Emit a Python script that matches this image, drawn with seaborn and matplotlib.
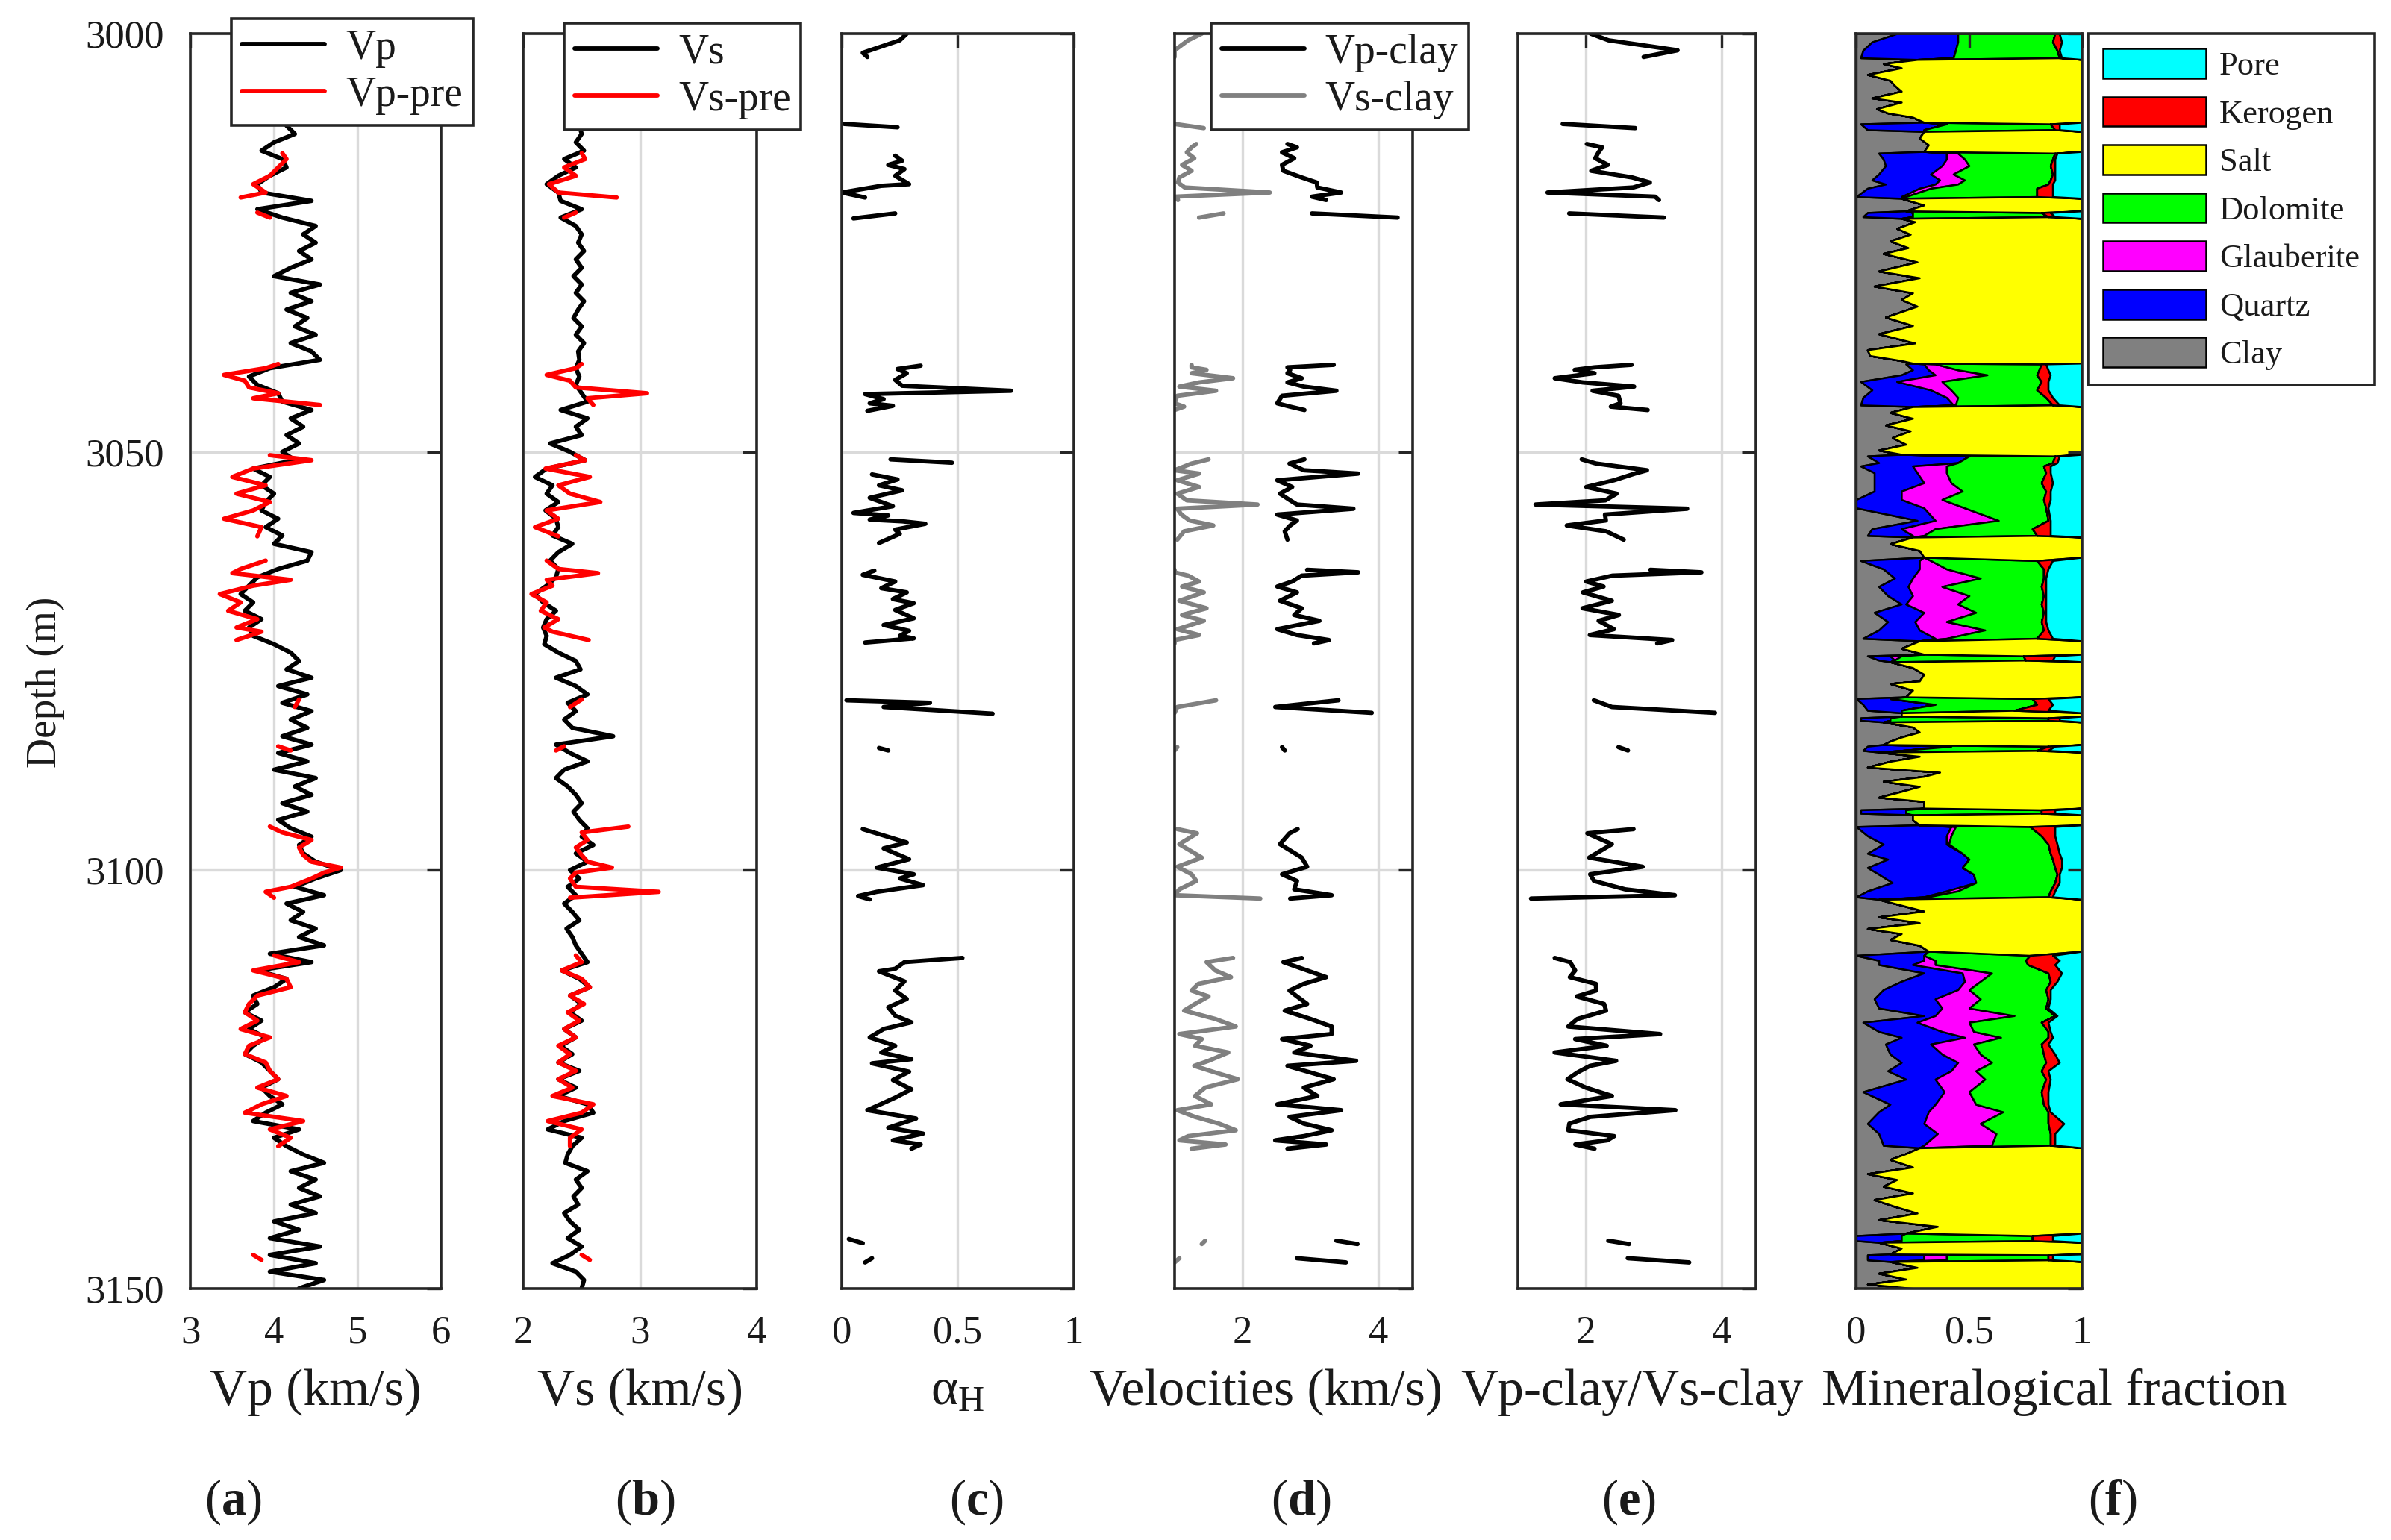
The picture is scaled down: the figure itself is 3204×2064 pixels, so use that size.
import numpy as np
import pandas as pd
import matplotlib
matplotlib.use("Agg")
import matplotlib.pyplot as plt
from matplotlib.lines import Line2D
from matplotlib.patches import Patch
import seaborn as sns

nan = np.nan

# ------------------------------------------------------------
# (a), (b)  measured Vp / Vs, one value per metre 3000..3150
# ------------------------------------------------------------
depth_m = np.arange(3000, 3151)

vp = [4.25, 4.30, 4.20, 4.35, 4.40, 4.30, 4.40, 4.30, 4.35, 4.25,
      4.30, 4.15, 4.25, 4.00, 3.85, 4.10, 4.15, 3.95, 3.80, 3.85,
      4.45, 3.80, 4.10, 4.50, 4.35, 4.50, 4.30, 4.45, 4.20, 4.00,
      4.55, 4.20, 4.45, 4.15, 4.40, 4.25, 4.50, 4.20, 4.45, 4.55,
      3.95, 3.70, 3.80, 4.05, 4.10, 4.45, 4.20, 4.35, 4.15, 4.30,
      4.10, 4.25, 3.75, 3.95, 3.85, 4.00, 3.90, 3.85, 4.05, 3.90,
      4.10, 4.00, 4.45, 4.40, 4.05, 3.80, 3.70, 3.60, 3.75, 3.65,
      3.85, 3.70, 3.75, 4.00, 4.20, 4.30, 4.15, 4.45, 4.05, 4.40,
      4.10, 4.45, 4.20, 4.40, 4.10, 4.45, 4.05, 4.40, 4.00, 4.50,
      4.25, 4.45, 4.10, 4.40, 4.05, 4.20, 4.45, 4.30, 4.35, 4.50,
      4.80, 4.50, 4.25, 4.60, 4.15, 4.35, 4.20, 4.50, 4.30, 4.60,
      3.95, 4.45, 3.80, 4.15, 4.00, 3.75, 3.80, 3.65, 3.85, 3.70,
      3.90, 3.75, 3.65, 3.85, 3.95, 4.05, 3.85, 3.95, 4.10, 3.90,
      3.75, 4.30, 4.00, 4.15, 4.35, 4.60, 4.20, 4.50, 4.30, 4.55,
      4.20, 4.50, 4.00, 4.30, 3.95, 4.55, 3.95, 4.50, 3.95, 4.60,
      4.30]

vs = [2.45, 2.50, 2.45, 2.50, 2.48, 2.52, 2.45, 2.50, 2.47, 2.50,
      2.45, 2.48, 2.50, 2.45, 2.52, 2.35, 2.45, 2.30, 2.20, 2.30,
      2.32, 2.50, 2.32, 2.45, 2.50, 2.47, 2.52, 2.45, 2.50, 2.43,
      2.50, 2.45, 2.52, 2.47, 2.43, 2.50, 2.45, 2.52, 2.47, 2.48,
      2.45, 2.48, 2.45, 2.50, 2.55, 2.32, 2.55, 2.45, 2.50, 2.23,
      2.40, 2.53, 2.20, 2.10, 2.25, 2.20, 2.30, 2.19, 2.28, 2.30,
      2.25, 2.42, 2.30, 2.23, 2.30, 2.28, 2.20, 2.10, 2.17, 2.28,
      2.20, 2.17, 2.20, 2.18, 2.30, 2.45, 2.49, 2.28, 2.45, 2.55,
      2.38, 2.45, 2.35, 2.42, 2.77, 2.28, 2.40, 2.55, 2.35, 2.28,
      2.38, 2.45, 2.50, 2.43, 2.48, 2.55, 2.50, 2.60, 2.45, 2.55,
      2.40, 2.48, 2.38, 2.45, 2.35, 2.42, 2.48, 2.37, 2.42, 2.45,
      2.50, 2.55, 2.33, 2.48, 2.57, 2.40, 2.50, 2.40, 2.50, 2.35,
      2.45, 2.32, 2.42, 2.30, 2.48, 2.30, 2.45, 2.30, 2.55, 2.60,
      2.35, 2.21, 2.50, 2.42, 2.38, 2.36, 2.55, 2.45, 2.50, 2.43,
      2.47, 2.35, 2.40, 2.48, 2.38, 2.50, 2.40, 2.25, 2.45, 2.52,
      2.50]

# predicted Vp / Vs, only in the non-salt intervals (nan = gap)
dep_pre = [3014.3, 3015.0, 3016.0, 3017.0, 3018.0, 3019.0, 3019.6, nan,
           3021.4, 3022.0, nan,
           3039.5, 3040.0, 3040.8, 3041.5, 3042.3, 3043.0, 3043.6, 3044.4, nan,
           3050.4, 3051.0, 3052.0, 3053.0, 3054.0, 3055.0, 3056.0, 3057.0, 3058.0, 3059.0, 3060.1, nan,
           3063.0, 3064.0, 3064.5, 3065.3, 3066.0, 3067.0, 3068.0, 3069.0, 3070.0, 3071.0, 3071.5, 3072.5, nan,
           3079.6, 3080.5, nan,
           3085.2, 3085.7, nan,
           3094.8, 3095.5, 3096.4, 3097.3, 3098.2, 3099.0, 3099.7, 3100.3, 3101.0, 3102.0, 3102.6, 3103.3, nan,
           3110.2, 3111, 3112, 3113, 3114, 3115, 3116, 3117, 3118, 3119, 3120, 3121,
           3122, 3123, 3124, 3125, 3126, 3127, 3128, 3129, 3130, 3131, 3132, 3133, nan,
           3146.0, 3146.6]
vp_pre = [4.10, 4.15, 4.05, 3.95, 3.75, 3.90, 3.60, nan,
          3.80, 3.95, nan,
          4.05, 3.90, 3.40, 3.65, 3.70, 4.05, 3.75, 4.55, nan,
          3.95, 4.45, 3.75, 3.50, 3.90, 3.55, 3.95, 3.75, 3.40, 3.85, 3.80, nan,
          3.90, 3.60, 3.50, 4.20, 3.75, 3.35, 3.60, 3.45, 3.80, 3.55, 3.85, 3.55, nan,
          4.30, 4.25, nan,
          4.05, 4.20, nan,
          3.95, 4.10, 4.45, 4.30, 4.35, 4.45, 4.80, 4.60, 4.45, 4.20, 3.90, 4.00, nan,
          4.00, 4.30, 3.75, 4.15, 4.20, 3.80, 3.70, 3.65, 3.80, 3.60, 3.95, 3.70,
          3.65, 3.90, 3.95, 4.05, 3.80, 4.15, 3.85, 3.65, 4.35, 3.95, 4.20, 4.05, nan,
          3.75, 3.85]
vs_pre = [2.50, 2.53, 2.35, 2.45, 2.22, 2.30, 2.80, nan,
          2.45, 2.35, nan,
          2.50, 2.45, 2.20, 2.40, 2.45, 3.06, 2.55, 2.60, nan,
          2.45, 2.53, 2.19, 2.57, 2.30, 2.40, 2.66, 2.20, 2.30, 2.10, 2.30, nan,
          2.20, 2.30, 2.64, 2.20, 2.25, 2.07, 2.20, 2.15, 2.30, 2.18, 2.25, 2.56, nan,
          2.50, 2.40, nan,
          2.35, 2.28, nan,
          2.90, 2.50, 2.55, 2.45, 2.50, 2.55, 2.76, 2.45, 2.40, 2.45, 3.16, 2.40, nan,
          2.45, 2.50, 2.33, 2.50, 2.57, 2.40, 2.52, 2.38, 2.48, 2.35, 2.45, 2.30,
          2.40, 2.30, 2.45, 2.30, 2.42, 2.25, 2.60, 2.50, 2.21, 2.50, 2.40, 2.40, nan,
          2.50, 2.57]

# ------------------------------------------------------------
# (c) alpha_H
# ------------------------------------------------------------
dep_alpha = [3000.0, 3000.8, 3002.3, 3002.8, nan,
             3010.8, 3011.2, nan,
             3014.6, 3015.2, 3015.7, 3016.2, 3017.0, 3018.0, 3018.2, 3019.0, 3019.6, nan,
             3021.5, 3022.1, nan,
             3039.7, 3040.1, 3040.6, 3041.4, 3042.1, 3042.7, 3043.1, 3043.7, 3044.2, 3044.5, 3045.1, nan,
             3050.9, 3051.3, nan,
             3052.7, 3053.3, 3054.0, 3054.6, 3055.5, 3056.5, 3057.3, 3057.6, 3058.1, 3058.3, 3058.6,
             3059.3, 3059.8, 3060.9, nan,
             3064.2, 3064.7, 3065.5, 3066.3, 3066.8, 3067.6, 3068.1, 3068.9, 3069.9, 3070.7, 3071.4,
             3072.0, 3072.3, 3072.8, nan,
             3079.7, 3080.0, 3080.5, 3081.3, nan,
             3085.4, 3085.7, nan,
             3095.1, 3096.7, 3097.4, 3098.7, 3099.7, 3100.5, 3101.0, 3101.8, 3102.6, 3103.1, 3103.5, nan,
             3110.5, 3111.0, 3111.8, 3112.1, 3113.3, 3114.4, 3115.4, 3116.4, 3117.4, 3118.2, 3119.0,
             3120.0, 3121.0, 3121.8, 3122.6, 3123.1, 3124.1, 3125.1, 3126.2, 3127.2, 3128.7, 3129.7,
             3130.8, 3131.5, 3132.3, 3132.8, 3133.3, nan,
             3144.1, 3144.6, nan,
             3146.4, 3146.9]
alpha_h = [0.28, 0.25, 0.09, 0.11, nan,
           0.01, 0.24, nan,
           0.23, 0.26, 0.20, 0.27, 0.23, 0.29, 0.17, 0.00, 0.10, nan,
           0.23, 0.05, nan,
           0.34, 0.24, 0.28, 0.23, 0.26, 0.73, 0.10, 0.18, 0.12, 0.22, 0.11, nan,
           0.21, 0.475, nan,
           0.13, 0.24, 0.16, 0.26, 0.12, 0.22, 0.05, 0.20, 0.12, 0.26, 0.36,
           0.23, 0.25, 0.16, nan,
           0.14, 0.09, 0.23, 0.17, 0.28, 0.22, 0.31, 0.23, 0.31, 0.18, 0.29,
           0.25, 0.31, 0.10, nan,
           0.02, 0.38, 0.18, 0.65, nan,
           0.16, 0.20, nan,
           0.09, 0.28, 0.18, 0.29, 0.15, 0.31, 0.25, 0.35, 0.15, 0.07, 0.12, nan,
           0.52, 0.27, 0.23, 0.16, 0.27, 0.23, 0.28, 0.20, 0.23, 0.30, 0.18,
           0.12, 0.23, 0.17, 0.30, 0.13, 0.29, 0.22, 0.30, 0.23, 0.11, 0.32,
           0.20, 0.35, 0.22, 0.34, 0.30, nan,
           0.03, 0.09, nan,
           0.13, 0.10]

# ------------------------------------------------------------
# (d) clay velocities, (e) is their ratio
# ------------------------------------------------------------
dep_clay = [3000.0, 3000.8, 3002.0, 3002.8, nan,
            3010.8, 3011.3, nan,
            3013.2, 3013.6, 3014.2, 3014.9, 3015.7, 3016.4, 3017.2, 3017.8, 3018.4, 3019.0, 3019.5, 3019.9, nan,
            3021.5, 3022.0, nan,
            3039.6, 3039.9, 3040.2, 3040.6, 3041.2, 3041.7, 3042.2, 3042.7, 3043.3, 3044.2, 3044.6, 3045.0, nan,
            3050.9, 3051.4, 3052.2, 3052.6, 3053.4, 3054.2, 3055.0, 3055.8, 3056.3, 3056.8, 3057.5,
            3058.2, 3058.8, 3059.5, 3060.5, nan,
            3064.1, 3064.4, 3064.8, 3065.5, 3066.1, 3066.8, 3067.8, 3068.7, 3069.5, 3070.2, 3071.2,
            3071.9, 3072.5, 3072.9, nan,
            3079.7, 3080.5, 3081.2, nan,
            3085.3, 3085.7, nan,
            3095.1, 3095.6, 3096.9, 3098.5, 3099.6, 3100.5, 3101.3, 3102.3, 3103.0, 3103.4, nan,
            3110.5, 3111.0, 3112.0, 3112.8, 3113.6, 3114.4, 3115.1, 3116.0, 3116.8, 3117.8,
            3118.7, 3119.6, 3120.2, 3121.0, 3121.8, 3122.8, 3123.4, 3124.2, 3125.0, 3126.0,
            3127.0, 3128.0, 3128.7, 3129.5, 3130.3, 3131.1, 3131.8, 3132.3, 3132.8, 3133.3, nan,
            3144.3, 3144.7, nan,
            3146.4, 3146.9]
vp_clay = [2.90, 2.80, 3.35, 2.85, nan,
           1.66, 3.90, nan,
           2.66, 2.80, 2.58, 2.76, 2.58, 2.60, 2.87, 3.09, 3.10, 3.45, 3.02, 3.23, nan,
           3.02, 4.28, nan,
           3.34, 2.66, 2.70, 2.66, 2.87, 2.66, 2.90, 3.38, 2.58, 2.51, 2.70, 2.91, nan,
           2.91, 2.69, 2.90, 3.70, 2.51, 2.73, 2.55, 2.70, 2.80, 3.63, 2.51,
           2.80, 2.70, 2.62, 2.66, nan,
           2.95, 3.70, 2.87, 2.73, 2.51, 2.80, 2.55, 2.87, 2.76, 3.13, 2.51,
           2.80, 3.27, 3.05, nan,
           3.41, 2.48, 3.90, nan,
           2.58, 2.62, nan,
           2.81, 2.69, 2.55, 2.87, 2.95, 2.58, 2.80, 2.76, 3.31, 2.70, nan,
           2.87, 2.60, 2.95, 3.23, 2.90, 2.69, 2.80, 2.95, 2.62, 3.00,
           3.31, 3.31, 2.58, 3.00, 2.76, 3.67, 2.66, 3.00, 3.34, 2.90,
           3.10, 2.51, 3.45, 2.69, 2.90, 3.31, 2.90, 2.48, 3.23, 2.66, nan,
           3.38, 3.69, nan,
           2.80, 3.52]
vs_clay = [1.40, 1.20, 1.00, 1.00, nan,
           1.00, 1.43, nan,
           1.32, 1.25, 1.18, 1.29, 1.11, 1.25, 1.07, 1.05, 1.15, 2.40, 1.00, 1.05, nan,
           1.72, 1.36, nan,
           1.25, 1.25, 1.47, 1.25, 1.86, 1.36, 1.07, 1.61, 1.04, 1.00, 1.14, 1.00, nan,
           1.50, 1.25, 1.00, 1.36, 1.04, 1.36, 1.04, 1.18, 2.22, 1.04, 1.10,
           1.22, 1.57, 1.14, 1.04, nan,
           1.00, 1.00, 1.20, 1.36, 1.11, 1.43, 1.07, 1.47, 1.11, 1.43, 1.04,
           1.36, 1.00, 1.00, nan,
           1.61, 1.04, 1.00, nan,
           1.04, 1.00, nan,
           1.04, 1.33, 1.07, 1.40, 1.04, 1.25, 1.32, 1.07, 1.00, 2.26, nan,
           1.86, 1.47, 1.60, 1.83, 1.35, 1.25, 1.50, 1.30, 1.14, 1.60,
           1.90, 1.07, 1.40, 1.30, 1.79, 1.50, 1.29, 1.60, 1.93, 1.45,
           1.30, 1.54, 1.04, 1.30, 1.65, 1.90, 1.20, 1.07, 1.75, 1.25, nan,
           1.45, 1.40, nan,
           1.07, 1.00]

# ------------------------------------------------------------
# (f) mineral fractions
# non-salt intervals (salt fraction = remainder)
# ------------------------------------------------------------
dep_ns = [3000.0, 3001.0, 3002.0, 3002.9,
          3010.8, 3011.5,
          3014.3, 3015.0, 3015.8, 3016.8, 3017.5, 3018.0, 3018.5, 3019.5,
          3021.4, 3021.9,
          3039.5, 3040.2, 3040.8, 3041.6, 3042.6, 3043.5, 3044.4,
          3050.5, 3051.3,
          3051.7, 3052.5, 3053.7, 3054.7, 3055.7, 3056.7, 3058.2, 3059.2, 3060.0,
          3063.0, 3064.0, 3065.1, 3066.1, 3067.2, 3068.2, 3069.2, 3070.3, 3071.3, 3072.3,
          3074.4, 3074.9,
          3079.5, 3080.2, 3080.9,
          3081.8, 3082.1,
          3085.2, 3085.7,
          3092.8, 3093.2,
          3094.8, 3095.9, 3096.9, 3098.0, 3098.7, 3099.7, 3100.5, 3101.5, 3102.5, 3103.2,
          3110.2, 3110.8,
          3111.3, 3112.3, 3113.3, 3114.3, 3115.4, 3116.5, 3117.4, 3118.2, 3119.3, 3120.0, 3120.8,
          3122.0, 3123.0, 3124.0, 3125.0, 3126.5, 3128.0, 3128.9, 3130.3, 3131.5, 3132.9,
          3143.7, 3144.3,
          3146.0, 3146.6]
clay_ns = [.18, .07, .03, .02,
           .02, .05,
           .10, .12, .13, .10, .07, .13, .05, .00,
           .05, .03,
           .22, .25, .20, .02, .07, .03, .02,
           .05, .10,
           .02, .08, .08, .08, .00, .00, .27, .07, .05,
           .02, .12, .17, .10, .14, .20, .08, .14, .10, .03,
           .05, .10,
           .00, .03, .05,
           .02, .02,
           .05, .03,
           .02, .02,
           .00, .05, .12, .05, .14, .05, .10, .16, .05, .00,
           .00, .10,
           .10, .30, .20, .12, .08, .10, .30, .03, .10, .20, .13,
           .15, .20, .14, .22, .03, .15, .10, .05, .10, .12,
           .00, .00,
           .05, .05]
quartz_ns = [.27, .38, .41, .41,
             .38, .25,
             .30, .28, .25, .23, .30, .22, .23, .20,
             .20, .22,
             .08, .07, .15, .16, .26, .37, .41,
             .45, .35,
             .23, .19, .22, .12, .20, .30, .08, .13, .20,
             .26, .16, .08, .13, .11, .02, .22, .12, .18, .32,
             .10, .07,
             .15, .32, .15,
             .13, .13,
             .37, .17,
             .20, .20,
             .42, .35, .28, .42, .36, .42, .42, .37, .35, .30,
             .30, .20,
             .15, .17, .28, .33, .27, .28, .05, .24, .28, .28, .20,
             .23, .25, .28, .13, .36, .20, .22, .25, .26, .18,
             .20, .20,
             .25, .25]
glaub_ns = [0, 0, 0, 0,
            0, 0,
            .05, .08, .12, .10, .11, .10, .05, .02,
            0, 0,
            .05, .13, .23, .20, .09, .05, .01,
            0, 0,
            .15, .13, .12, .27, .18, .18, .28, .15, .05,
            .05, .12, .30, .15, .25, .23, .23, .14, .29, .05,
            .05, 0,
            0, 0, 0,
            0, 0,
            0, 0,
            0, 0,
            .02, .02, .01, 0, 0, 0, 0, 0, .05, .02,
            0, .05,
            .10, .13, .07, .05, .20, .12, .35, .23, .14, .16, .19,
            .17, .15, .11, .22, .11, .18, .33, .25, .26, .30,
            0, 0,
            .10, .10]
dolo_ns = [.43, .42, .45, .47,
           .46, .58,
           .43, .39, .36, .44, .38, .40, .47, .58,
           .57, .60,
           .47, .36, .22, .44, .38, .39, .43,
           .38, .42,
           .43, .44, .40, .37, .45, .36, .22, .43, .50,
           .47, .43, .28, .44, .33, .37, .30, .42, .26, .40,
           .54, .58,
           .63, .45, .50,
           .70, .70,
           .43, .60,
           .60, .60,
           .33, .40, .44, .39, .37, .41, .37, .35, .41, .53,
           .47, .40,
           .41, .25, .31, .34, .30, .34, .18, .32, .33, .21, .30,
           .28, .24, .29, .27, .32, .30, .20, .30, .24, .26,
           .58, .58,
           .45, .45]
kero_ns = [.02, .04, .01, .01,
           .04, .02,
           .01, .01, .02, .01, .02, .02, .07, .07,
           .04, .03,
           .02, .04, .06, .03, .05, .03, .03,
           .02, .02,
           .03, .02, .05, .02, .03, .01, .01, .08, .06,
           .07, .02, .01, .02, .01, .02, .01, .02, .02, .07,
           .14, .12,
           .07, .07, .15,
           .05, .05,
           .03, .05,
           .06, .06,
           .11, .06, .04, .04, .04, .03, .01, .02, .02, .02,
           .10, .15,
           .12, .06, .03, .02, .01, .01, .01, .03, .01, .02, .03,
           .05, .06, .03, .02, .03, .02, .01, .07, .02, .02,
           .09, .09,
           .02, .02]
pore_ns = [.10, .09, .10, .09,
           .10, .10,
           .11, .12, .12, .12, .12, .13, .13, .13,
           .14, .12,
           .16, .15, .14, .15, .15, .13, .10,
           .10, .11,
           .14, .14, .13, .14, .14, .15, .14, .14, .14,
           .13, .15, .16, .16, .16, .16, .16, .16, .15, .13,
           .12, .13,
           .15, .13, .15,
           .10, .10,
           .12, .15,
           .12, .12,
           .12, .12, .11, .10, .09, .09, .10, .10, .12, .13,
           .13, .10,
           .12, .09, .11, .14, .14, .15, .11, .15, .14, .13, .15,
           .12, .10, .15, .14, .15, .15, .14, .08, .12, .12,
           .13, .13,
           .13, .13]

# salt intervals: clay + salt only
dep_salt = [3003.1, 3003.6, 3004.1, 3004.9, 3005.6, 3006.2, 3006.9, 3007.7, 3008.2, 3009.0, 3009.5, 3010.0, 3010.6,
            3011.7, 3012.5, 3013.3, 3014.1,
            3019.7, 3020.5, 3021.2,
            3022.1, 3022.5, 3023.3, 3024.0, 3024.8, 3025.6, 3026.3, 3027.3, 3028.4, 3029.2, 3030.2,
            3031.0, 3031.8, 3032.6, 3033.9, 3034.9, 3035.9, 3037.0, 3037.8, 3038.5, 3039.1, 3039.4,
            3044.6, 3045.3, 3046.0, 3046.8, 3047.5, 3048.3, 3049.1, 3049.8, 3050.3,
            3060.2, 3061.0, 3061.8, 3062.6,
            3072.6, 3073.5, 3074.2,
            3075.1, 3075.8, 3076.6, 3077.4,
            3077.7, 3078.5, 3079.3,
            3081.2, 3081.6,
            3082.3, 3082.9, 3083.5, 3084.1, 3084.6, 3085.0,
            3085.9, 3086.4, 3087.0, 3087.7, 3088.3, 3088.8, 3089.4, 3090.0, 3090.6, 3091.3, 3091.8, 3092.6,
            3093.4, 3094.0, 3094.6,
            3103.5, 3104.2, 3104.9, 3105.6, 3106.3, 3107.0, 3107.6, 3108.3, 3109.0, 3109.7,
            3133.2, 3133.9, 3134.6, 3135.5, 3136.3, 3137.0, 3137.8, 3138.6, 3139.4, 3140.2,
            3141.0, 3141.8, 3142.6, 3143.4,
            3144.5, 3145.2, 3145.9,
            3146.8, 3147.5, 3148.2, 3148.9, 3149.5, 3150.0]
clay_salt = [.27, .12, .20, .05, .15, .17, .20, .07, .20, .09, .14, .25, .30,
             .30, .28, .32, .30,
             .20, .30, .22,
             .20, .26, .18, .24, .15, .23, .12, .27, .10, .28, .08,
             .25, .20, .27, .13, .25, .10, .26, .05, .06, .20, .25,
             .25, .15, .25, .13, .24, .16, .22, .10, .20,
             .25, .15, .28, .30,
             .28, .20, .30,
             .15, .25, .30, .28,
             .15, .25, .22,
             .20, .20,
             .12, .25, .28, .20, .15, .12,
             .10, .28, .15, .05, .37, .30, .12, .28, .20, .10, .30, .30,
             .25, .25, .28,
             .10, .20, .30, .10, .28, .05, .20, .15, .28, .32,
             .28, .22, .15, .25, .05, .18, .12, .25, .08, .17,
             .27, .10, .36, .22,
             .10, .20, .15,
             .15, .27, .10, .22, .05, .25]

mineral_order = ["Clay", "Quartz", "Glauberite", "Dolomite", "Salt", "Kerogen", "Pore"]
mineral_colors = {"Clay": "#808080", "Quartz": "#0000ff", "Glauberite": "#ff00ff",
                  "Dolomite": "#00ff00", "Salt": "#ffff00", "Kerogen": "#ff0000",
                  "Pore": "#00ffff"}


def same_len(*arrs):
    lens = [len(a) for a in arrs]
    assert len(set(lens)) == 1, lens


same_len(depth_m, vp, vs)
same_len(dep_pre, vp_pre, vs_pre)
same_len(dep_alpha, alpha_h)
same_len(dep_clay, vp_clay, vs_clay)
same_len(dep_ns, clay_ns, quartz_ns, glaub_ns, dolo_ns, kero_ns, pore_ns)
same_len(dep_salt, clay_salt)

# ------------------------------------------------------------
# style
# ------------------------------------------------------------
sns.set_theme(style="white")
plt.rcParams["font.family"] = ["Liberation Serif", "DejaVu Serif"]
plt.rcParams["mathtext.fontset"] = "custom"
plt.rcParams["mathtext.rm"] = "Liberation Serif"
plt.rcParams["mathtext.it"] = "Liberation Serif:italic"
plt.rcParams["mathtext.bf"] = "Liberation Serif:bold"

INK = "#1a1a1a"
LW = 2.1
TICK_FS = 19
LABEL_FS = 25
LEG_FS = 20


def draw_log(ax, dep, val, color, lw=LW):
    df = pd.DataFrame({"depth": dep, "value": val})
    df["seg"] = (df["depth"].isna() | df["value"].isna()).cumsum()
    df = df.dropna()
    sns.lineplot(data=df, x="value", y="depth", units="seg", estimator=None,
                 sort=False, orient="y", color=color, linewidth=lw,
                 legend=False, ax=ax)


def setup(ax, xlim, xticks, xticklabels, xlabel, ylabels=False, grid=True, label_x=0.5):
    ax.set_xlim(*xlim)
    ax.set_ylim(3150, 3000)
    ax.set_xticks(xticks)
    ax.set_xticklabels(xticklabels)
    ax.set_yticks([3000, 3050, 3100, 3150])
    if not ylabels:
        ax.set_yticklabels([])
    ax.tick_params(direction="in", top=True, right=True, length=7, width=1.2,
                   labelsize=TICK_FS, pad=13, color="#262626", labelcolor=INK)
    if grid:
        ax.grid(True, color="#dadada", linewidth=1.2)
    else:
        ax.grid(False)
    for sp in ax.spines.values():
        sp.set_color("#262626")
        sp.set_linewidth(1.3)
    ax.set_ylabel("")
    ax.set_xlabel(xlabel, fontsize=LABEL_FS, color=INK)
    ax.xaxis.set_label_coords(label_x, -0.064)


def box_legend(ax, handles, labels, anchor, loc, fs, **kw):
    leg = ax.legend(handles, labels, loc=loc, bbox_to_anchor=anchor, fontsize=fs,
                    frameon=True, fancybox=False, framealpha=1, edgecolor="#262626",
                    borderaxespad=0, **kw)
    leg.get_frame().set_linewidth(1.3)
    for t in leg.get_texts():
        t.set_color(INK)
    return leg


line_leg = dict(handlelength=2.0, borderpad=0.25, labelspacing=0.2, handletextpad=0.5)

fig = plt.figure(figsize=(16.025, 10.32), dpi=200)
bottom, height = 0.1634, 0.8148
ax_a = fig.add_axes([0.0797, bottom, 0.1046, height])
ax_b = fig.add_axes([0.2188, bottom, 0.0976, height])
ax_c = fig.add_axes([0.3520, bottom, 0.0969, height])
ax_d = fig.add_axes([0.4911, bottom, 0.0995, height])
ax_e = fig.add_axes([0.6346, bottom, 0.0995, height])
ax_f = fig.add_axes([0.7761, bottom, 0.0944, height])

# (a)
draw_log(ax_a, depth_m, vp, "black")
draw_log(ax_a, dep_pre, vp_pre, "red")
setup(ax_a, (3, 6), [3, 4, 5, 6], ["3", "4", "5", "6"], "Vp (km/s)", ylabels=True)
box_legend(ax_a, [Line2D([], [], color="black", lw=LW), Line2D([], [], color="red", lw=LW)],
           ["Vp", "Vp-pre"], (1.128, 1.012), "upper right", LEG_FS, **line_leg)

# (b)
draw_log(ax_b, depth_m, vs, "black")
draw_log(ax_b, dep_pre, vs_pre, "red")
setup(ax_b, (2, 4), [2, 3, 4], ["2", "3", "4"], "Vs (km/s)")
box_legend(ax_b, [Line2D([], [], color="black", lw=LW), Line2D([], [], color="red", lw=LW)],
           ["Vs", "Vs-pre"], (1.19, 1.0085), "upper right", LEG_FS, **line_leg)

# (c)
draw_log(ax_c, dep_alpha, alpha_h, "black")
setup(ax_c, (0, 1), [0, 0.5, 1], ["0", "0.5", "1"], "α$_{\\rm H}$")

# (d)
draw_log(ax_d, dep_clay, vp_clay, "black")
draw_log(ax_d, dep_clay, vs_clay, "#808080")
setup(ax_d, (1, 4.5), [2, 4], ["2", "4"], "Velocities (km/s)", label_x=0.385)
box_legend(ax_d, [Line2D([], [], color="black", lw=LW), Line2D([], [], color="#808080", lw=LW)],
           ["Vp-clay", "Vs-clay"], (1.237, 1.0085), "upper right", LEG_FS, **line_leg)

# (e)
ratio = np.array(vp_clay) / np.array(vs_clay)
draw_log(ax_e, dep_clay, ratio, "black")
setup(ax_e, (1, 4.5), [2, 4], ["2", "4"], "Vp-clay/Vs-clay", label_x=0.48)

# (f) stacked mineral fractions
ns = pd.DataFrame({"depth": dep_ns, "Clay": clay_ns, "Quartz": quartz_ns,
                   "Glauberite": glaub_ns, "Dolomite": dolo_ns,
                   "Kerogen": kero_ns, "Pore": pore_ns})
others = ["Clay", "Quartz", "Glauberite", "Dolomite", "Kerogen", "Pore"]
ns["Salt"] = (1 - ns[others].sum(axis=1)).clip(lower=0)
sl = pd.DataFrame({"depth": dep_salt, "Clay": clay_salt})
for name in ["Quartz", "Glauberite", "Dolomite", "Kerogen", "Pore"]:
    sl[name] = 0.0
sl["Salt"] = 1 - sl["Clay"]
mins = pd.concat([ns, sl]).sort_values("depth").reset_index(drop=True)

left = np.zeros(len(mins))
for name in mineral_order:
    right = left + mins[name].to_numpy()
    ax_f.fill_betweenx(mins["depth"], left, right, facecolor=mineral_colors[name],
                       edgecolor="black", linewidth=0.9)
    left = right
ax_f.set_axisbelow(False)
setup(ax_f, (0, 1), [0, 0.5, 1], ["0", "0.5", "1"], "Mineralogical fraction",
      grid=False, label_x=0.878)
legend_order = ["Pore", "Kerogen", "Salt", "Dolomite", "Glauberite", "Quartz", "Clay"]
box_legend(ax_f, [Patch(facecolor=mineral_colors[n], edgecolor="black", linewidth=0.9)
                  for n in legend_order],
           legend_order, (1.027, 1.0), "upper left", 16,
           handlelength=3.1, handleheight=1.0, borderpad=0.45, labelspacing=0.46,
           handletextpad=0.4)

# depth label and panel tags
fig.text(0.019, 0.557, "Depth (m)", rotation=90, ha="center", va="center",
         fontsize=20, color=INK)
for x, tag in zip([0.0976, 0.2698, 0.4082, 0.5440, 0.6811, 0.8833],
                  ["a", "b", "c", "d", "e", "f"]):
    fig.text(x, 0.0247, "($\\mathbf{%s}$)" % tag, ha="center", va="center",
             fontsize=24, color=INK)

fig.savefig("out.png", dpi=200)
